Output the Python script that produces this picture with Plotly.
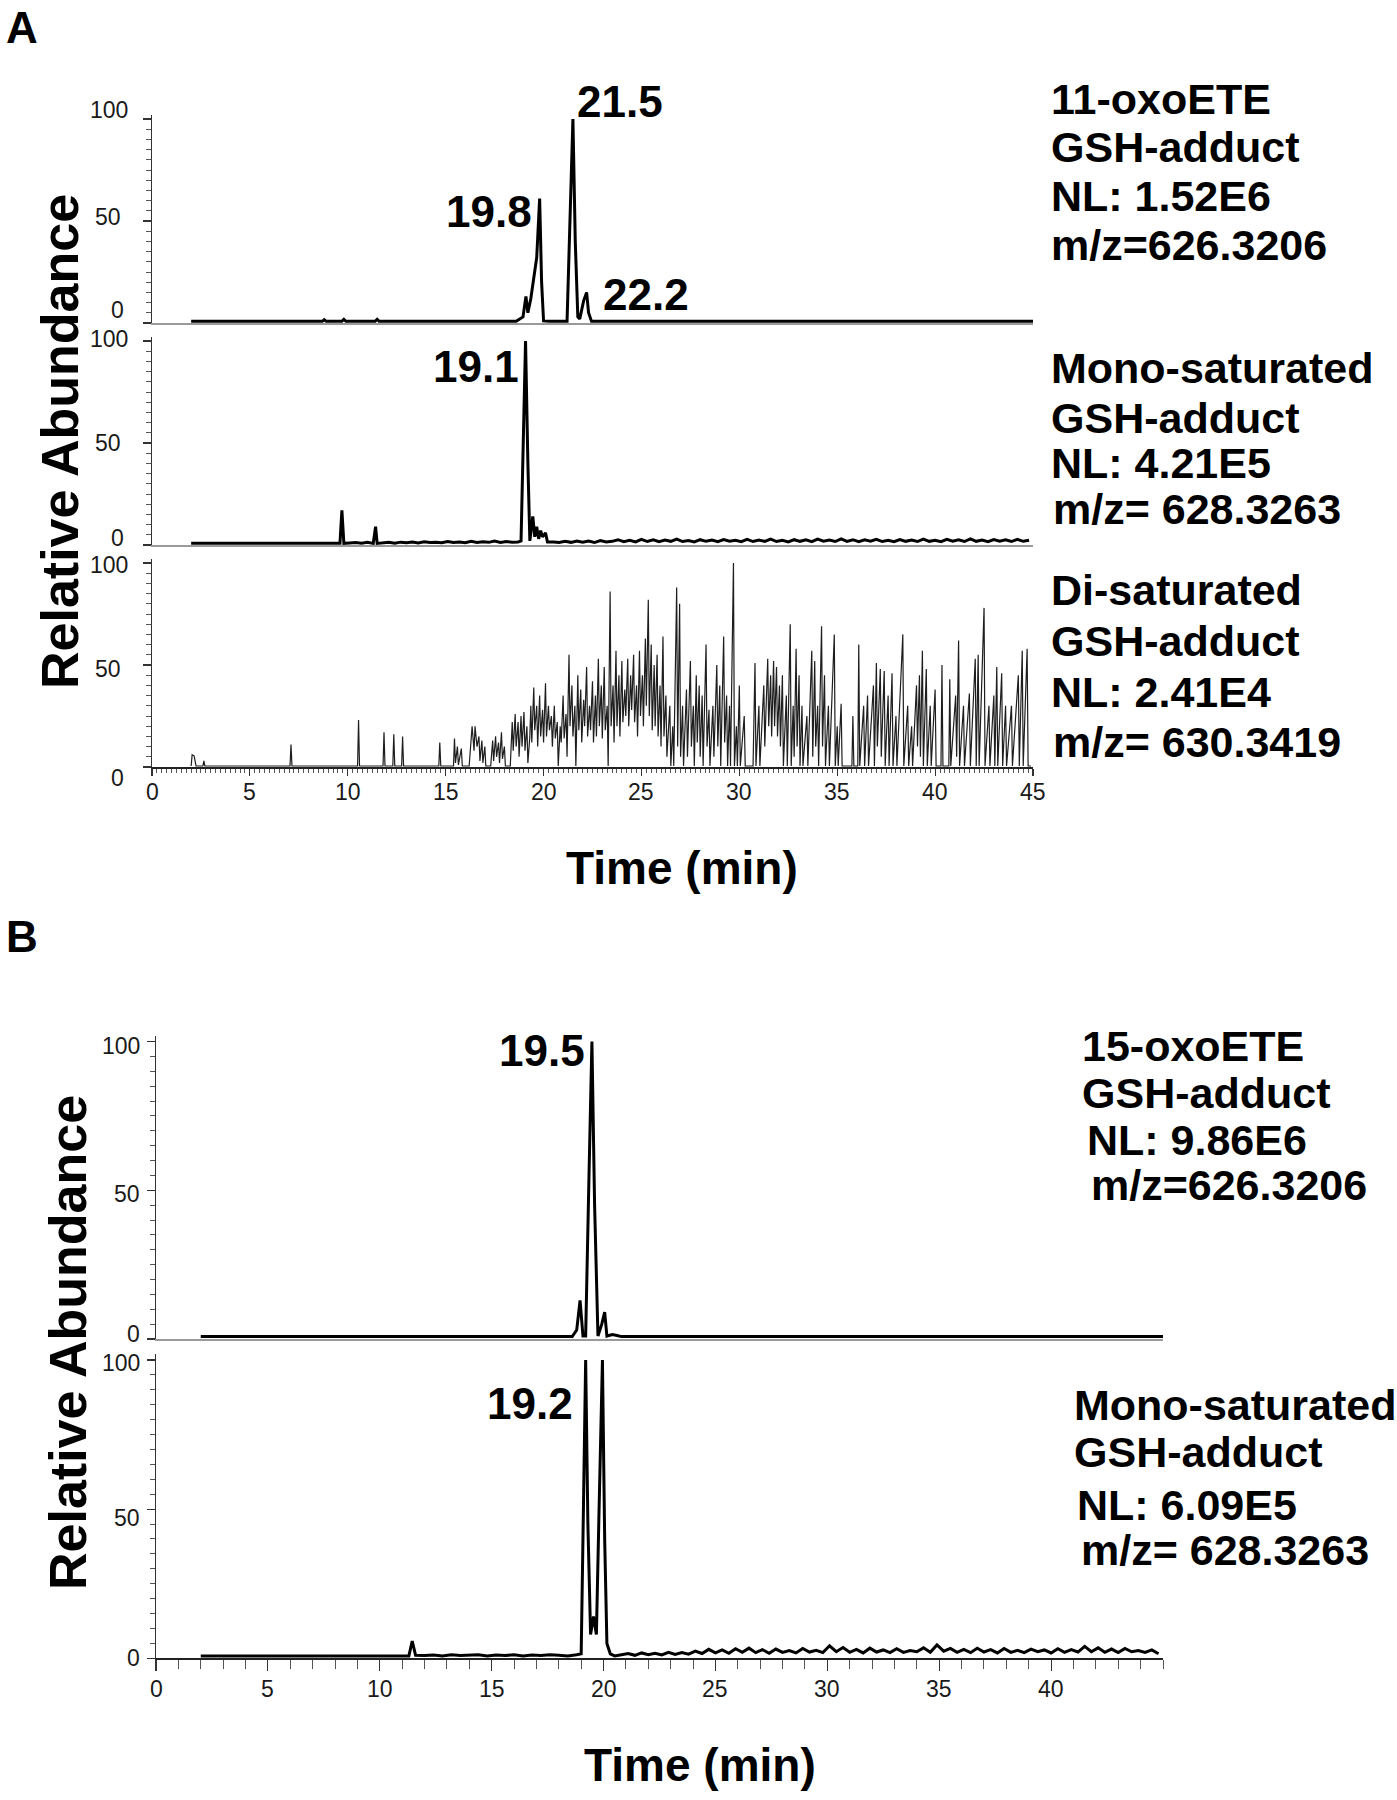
import plotly.graph_objects as go

# ---------------- data (time in min, relative abundance in %) ----------------
oxo11_t = [2.0, 8.7, 8.8, 8.9, 9.7, 9.8, 9.9, 11.4, 11.5, 11.6, 18.6, 18.95, 19.1, 19.2,
           19.35, 19.55, 19.65, 19.8, 19.9, 20.0, 20.3, 21.2, 21.35, 21.5, 21.62, 21.75,
           21.85, 22.05, 22.2, 22.3, 22.45, 45.0]
oxo11_y = [0.8, 0.8, 1.6, 0.8, 0.8, 1.8, 0.8, 0.8, 1.8, 0.8, 0.8, 3, 13, 5,
           12, 27, 32, 61, 20, 1, 0.8, 0.8, 50, 100, 40, 3,
           2, 11, 15, 5, 0.8, 0.8]

mono_a_t = [2.0, 9.6, 9.7, 9.8, 10.1, 10.4, 10.7, 11.0, 11.3, 11.42, 11.5,
            11.8, 12.1, 12.4, 12.7, 13.0, 13.3, 13.6, 13.9, 14.2, 14.5, 14.8, 15.1, 15.4,
            15.7, 16.0, 16.3, 16.6, 16.9, 17.2, 17.5, 17.8, 18.1, 18.4, 18.7,
            18.85, 19.0, 19.08, 19.2, 19.3, 19.45, 19.55, 19.65, 19.75, 19.85, 19.95, 20.1, 20.2,
            20.5, 20.8, 21.1, 21.4, 21.7, 22.0, 22.3, 22.6, 22.9, 23.2, 23.5, 23.8, 24.1,
            24.4, 24.7, 25.0, 25.3, 25.6, 25.9, 26.2, 26.5, 26.8, 27.1, 27.4, 27.7, 28.0,
            28.3, 28.6, 28.9, 29.2, 29.5, 29.8, 30.1, 30.4, 30.7, 31.0, 31.3, 31.6, 31.9,
            32.2, 32.5, 32.8, 33.1, 33.4, 33.7, 34.0, 34.3, 34.6, 34.9, 35.2, 35.5, 35.8,
            36.1, 36.4, 36.7, 37.0, 37.3, 37.6, 37.9, 38.2, 38.5, 38.8, 39.1, 39.4, 39.7,
            40.0, 40.3, 40.6, 40.9, 41.2, 41.5, 41.8, 42.1, 42.4, 42.7, 43.0, 43.3, 43.6,
            43.9, 44.2, 44.5, 44.8]
mono_a_y = [0.8, 0.8, 17, 0.8, 1.0, 1.2, 0.9, 1.3, 0.8, 9, 0.8,
            1.0, 1.3, 0.9, 1.4, 1.1, 1.5, 1.0, 1.6, 1.2, 1.4, 1.1, 1.7, 1.2,
            1.5, 1.1, 1.8, 1.2, 1.6, 1.3, 1.9, 1.2, 1.7, 1.3, 1.5,
            2, 60, 100, 40, 2, 14, 4, 9, 3, 7, 4, 6, 1.5,
            1.5, 1.2, 1.8, 1.3, 2.0, 1.4, 1.9, 1.2, 2.2, 1.5, 1.8, 2.6, 1.6,
            2.3, 1.5, 2.8, 1.7, 2.5, 1.6, 2.4, 1.8, 2.9, 1.7, 2.2, 1.5, 2.6,
            1.8, 2.4, 1.6, 2.7, 1.9, 2.3, 1.6, 2.8, 1.7, 2.4, 1.8, 2.9, 1.7,
            2.3, 1.5, 2.6, 1.8, 2.5, 1.6, 2.9, 1.9, 2.4, 1.7, 3.0, 1.8, 2.6,
            1.6, 2.5, 1.9, 2.8, 1.7, 2.3, 1.6, 2.7, 1.8, 2.4, 1.7, 2.9, 1.8,
            2.3, 1.6, 2.8, 1.9, 2.5, 1.7, 3.0, 1.8, 2.4, 1.6, 2.7, 1.9, 2.5,
            1.7, 2.8, 1.8, 2.3]

di_t = [2.0, 2.05, 2.15, 2.25, 2.6, 2.65, 2.7,
        7.05, 7.1, 7.15,
        10.5, 10.55, 10.6,
        11.8, 11.85, 11.9, 12.3, 12.35, 12.4, 12.75, 12.8, 12.85,
        14.65, 14.7, 14.75,
        15.4, 15.45, 15.5, 15.6, 15.65, 15.8, 15.85,
        16.2, 16.3, 16.35, 16.45, 16.5, 16.6, 16.7, 16.75, 16.85, 16.9, 17.0, 17.05,
        17.3, 17.4, 17.45, 17.55, 17.6, 17.7, 17.75, 17.85, 17.9, 18.0, 18.05,
        18.3, 18.4, 18.45, 18.55, 18.6, 18.7, 18.75, 18.85, 18.9, 19.0, 19.05, 19.15, 19.2,
        19.3, 19.35, 19.4, 19.5, 19.55, 19.65, 19.7, 19.8, 19.85, 19.95, 20.0, 20.1, 20.15,
        20.25, 20.3, 20.4, 20.45, 20.55, 20.6, 20.7, 20.75, 20.85, 20.9, 21.0, 21.05,
        21.15, 21.2, 21.3, 21.35, 21.45, 21.5, 21.6, 21.65, 21.75, 21.8, 21.9, 21.95,
        22.05, 22.1, 22.2, 22.25, 22.35, 22.4, 22.5, 22.55, 22.65, 22.7, 22.8, 22.85,
        22.95, 23.0, 23.1, 23.15, 23.25, 23.3, 23.4, 23.45, 23.55, 23.6, 23.7, 23.75,
        23.85, 23.9, 24.0, 24.05, 24.15, 24.2, 24.3, 24.35, 24.45, 24.5, 24.6, 24.65,
        24.75, 24.8, 24.9, 24.95, 25.05, 25.1, 25.2, 25.25, 25.35, 25.4, 25.5, 25.55,
        25.65, 25.7, 25.8, 25.85, 25.95, 26.0, 26.1, 26.15, 26.25, 26.3, 26.45, 26.5,
        26.6, 26.65, 26.8, 26.85, 26.95, 27.0, 27.1, 27.15, 27.3, 27.35, 27.5, 27.55,
        27.65, 27.7, 27.8, 27.85, 27.95, 28.0, 28.1, 28.15, 28.3, 28.35, 28.45, 28.5,
        28.65, 28.7, 28.85, 28.9, 29.0, 29.05, 29.2, 29.25, 29.35, 29.4, 29.5, 29.55,
        29.7, 29.75, 29.85, 29.9, 30.0, 30.05, 30.25, 30.3,
        30.7, 30.8, 30.85, 31.0, 31.05, 31.25, 31.3, 31.45, 31.5, 31.6, 31.65, 31.75,
        31.8, 31.9, 31.95, 32.05, 32.1, 32.2, 32.25, 32.4, 32.45, 32.6, 32.65, 32.75,
        32.8, 32.9, 32.95, 33.05, 33.1, 33.2, 33.25, 33.45, 33.5, 33.7, 33.75, 33.85,
        33.9, 34.0, 34.05, 34.2, 34.25, 34.35, 34.4, 34.55, 34.6, 34.85, 34.9, 35.0,
        35.05, 35.2, 35.25,
        35.75, 35.8, 35.85, 36.05, 36.1, 36.15, 36.35, 36.4, 36.55, 36.6, 36.85, 36.9,
        37.0, 37.05, 37.2, 37.25, 37.4, 37.45, 37.6, 37.65, 37.8, 37.85, 38.0, 38.05,
        38.35, 38.4, 38.6, 38.65, 38.8, 38.85, 39.05, 39.1, 39.2, 39.25, 39.35, 39.4,
        39.55, 39.6, 39.75, 39.8, 40.0, 40.05, 40.3, 40.35, 40.4, 40.7, 40.75, 40.8,
        41.05, 41.1, 41.2, 41.25, 41.45, 41.5, 41.75, 41.8, 42.05, 42.1, 42.2, 42.25,
        42.5, 42.55, 42.75, 42.8, 43.0, 43.05, 43.15, 43.2, 43.4, 43.45, 43.6, 43.65,
        43.9, 43.95, 44.25, 44.3, 44.45, 44.5, 44.7, 44.75, 44.9]
di_y = [0.5, 6, 5.5, 0.5, 0.5, 3, 0.5,
        0.5, 11, 0.5,
        0.5, 23, 0.5,
        0.5, 17, 0.5, 0.5, 16, 0.5, 0.5, 15, 0.5,
        0.5, 12, 0.5,
        0.5, 14, 2, 10, 1, 9, 0.5,
        0.5, 12, 20, 8, 20, 10, 15, 3, 13, 2, 10, 0.5,
        0.5, 13, 3, 15, 5, 12, 2, 17, 4, 10, 0.5,
        0.5, 22, 8, 26, 10, 22, 5, 25, 10, 27, 8, 20, 2,
        15, 30, 12, 39, 18, 30, 10, 35, 15, 28, 12, 41, 15,
        30, 18, 25, 10, 30, 14, 22, 0.5, 20, 12, 35, 14,
        26, 5, 55, 20, 40, 15, 30, 0.5, 45, 18, 38, 12,
        33, 20, 49, 15, 30, 18, 42, 12, 35, 15, 53, 20,
        40, 14, 49, 18, 30, 0.5, 86, 20, 40, 12, 57, 20,
        45, 15, 52, 22, 38, 25, 53, 20, 45, 28, 55, 22,
        40, 15, 57, 25, 45, 20, 63, 30, 82, 25, 60, 18,
        50, 20, 55, 15, 40, 10, 64, 15, 35, 5, 30, 0.5,
        20, 0.5, 88, 10, 80, 5, 30, 0.5, 38, 5, 52, 10,
        30, 0.5, 45, 12, 40, 5, 35, 0.5, 60, 10, 28, 0.5,
        30, 5, 50, 10, 40, 0.5, 64, 12, 35, 0.5, 30, 0.5,
        100, 0.5, 20, 0.5, 40, 0.5, 25, 0.5,
        0.5, 51, 0.5, 30, 0.5, 40, 10, 53, 20, 45, 15, 52,
        20, 49, 15, 40, 10, 45, 0.5, 35, 0.5, 70, 0.5, 30,
        5, 58, 10, 45, 0.5, 30, 0.5, 25, 0.5, 57, 5, 52,
        10, 30, 0.5, 69, 10, 45, 0.5, 30, 0.5, 65, 0.5, 20,
        0.5, 31, 0.5,
        0.5, 25, 0.5, 0.5, 60, 0.5, 30, 0.5, 35, 0.5, 40, 0.5,
        51, 10, 48, 5, 47, 0.5, 35, 0.5, 46, 0.5, 25, 0.5,
        65, 0.5, 30, 0.5, 20, 0.5, 40, 10, 45, 5, 57, 0.5,
        48, 0.5, 30, 0.5, 38, 0.5, 0.5, 50, 0.5, 0.5, 43, 0.5,
        35, 5, 62, 0.5, 30, 0.5, 36, 0.5, 53, 0.5, 55, 0.5,
        78, 0.5, 30, 0.5, 35, 0.5, 49, 0.5, 46, 0.5, 30, 0.5,
        30, 0.5, 45, 0.5, 57, 0.5, 58, 0.5, 0.5]

oxo15_t = [2.0, 18.6, 18.8, 18.95, 19.08, 19.2, 19.35, 19.48, 19.6, 19.75, 19.92, 20.05,
           20.15, 20.4, 20.6, 20.8, 45.0]
oxo15_y = [0.8, 0.8, 3, 13, 1, 1, 55, 100, 45, 1, 5, 9,
           1, 1.5, 1.2, 0.8, 0.8]

mono_b_t = [2.0, 11.3, 11.45, 11.6, 12.0, 12.4, 12.8, 13.2, 13.6, 14.0, 14.4, 14.8,
            15.2, 15.6, 16.0, 16.4, 16.8, 17.2, 17.6, 18.0, 18.4, 18.8, 19.0, 19.1,
            19.2, 19.3, 19.42, 19.55, 19.68, 19.8, 19.95, 20.05, 20.15, 20.3, 20.5,
            20.8, 21.1, 21.4, 21.7, 22.0, 22.3, 22.6, 22.9, 23.2, 23.5, 23.8, 24.1,
            24.4, 24.7, 25.0, 25.3, 25.6, 25.9, 26.2, 26.5, 26.8, 27.1, 27.4, 27.7,
            28.0, 28.3, 28.6, 28.9, 29.2, 29.5, 29.8, 30.1, 30.4, 30.7, 31.0, 31.3,
            31.6, 31.9, 32.2, 32.5, 32.8, 33.1, 33.4, 33.7, 34.0, 34.3, 34.6, 34.9,
            35.2, 35.5, 35.8, 36.1, 36.4, 36.7, 37.0, 37.3, 37.6, 37.9, 38.2, 38.5,
            38.8, 39.1, 39.4, 39.7, 40.0, 40.3, 40.6, 40.9, 41.2, 41.5, 41.8, 42.1,
            42.4, 42.7, 43.0, 43.3, 43.6, 43.9, 44.2, 44.5, 44.8]
mono_b_y = [0.8, 0.8, 5.8, 1.0, 0.9, 1.1, 0.8, 1.2, 0.9, 1.0, 1.2, 0.8,
            1.1, 0.9, 1.2, 0.8, 1.1, 0.9, 1.2, 1.0, 0.8, 1.2, 1.5, 50,
            100, 45, 8, 14, 8, 50, 100, 40, 5, 1.5, 0.8,
            1.2, 1.6, 1.0, 1.8, 1.2, 1.7, 1.1, 2.0, 1.3, 1.9, 1.4, 2.4,
            1.6, 3.0, 1.8, 2.8, 1.7, 3.2, 2.0, 3.4, 1.9, 2.9, 1.7, 3.1,
            2.0, 2.6, 1.8, 3.3, 2.1, 2.7, 1.9, 4.2, 2.2, 3.6, 2.0, 3.0,
            1.8, 3.4, 2.1, 2.8, 1.9, 3.2, 2.0, 2.6, 2.2, 3.5, 2.0, 4.5,
            2.4, 3.3, 2.0, 3.0, 1.9, 3.4, 2.1, 2.9, 1.8, 3.3, 2.0, 2.7,
            1.9, 3.1, 2.2, 2.8, 1.8, 3.2, 2.0, 2.9, 2.1, 4.0, 2.2, 3.5,
            2.0, 3.1, 1.9, 3.3, 2.2, 2.6, 2.0, 2.8, 1.5]

a_xticks = [0, 5, 10, 15, 20, 25, 30, 35, 40, 45]
b_xticks = [0, 5, 10, 15, 20, 25, 30, 35, 40]
y_ticks = [0, 50, 100]

a_names = [["11-oxoETE", "GSH-adduct", "NL: 1.52E6", "m/z=626.3206"],
           ["Mono-saturated", "GSH-adduct", "NL: 4.21E5", "m/z= 628.3263"],
           ["Di-saturated", "GSH-adduct", "NL: 2.41E4", "m/z= 630.3419"]]
b_names = [["15-oxoETE", "GSH-adduct", "NL: 9.86E6", "m/z=626.3206"],
           ["Mono-saturated", "GSH-adduct", "NL: 6.09E5", "m/z= 628.3263"]]
peak_labels = ["21.5", "19.8", "22.2", "19.1", "19.5", "19.2"]

# ---------------- layout helpers (pixel geometry of the 1397x1800 page) ----------------
W, H = 1397, 1800
FONT = "Liberation Sans, Arial, Helvetica, sans-serif"


def fx(px):
    return px / W


def fy(py):
    return 1 - py / H


def ydom(p100, p0, top=102):
    s = (p0 - p100) / 100.0
    return [fy(p0), fy(p100 - (top - 100) * s)]


fig = go.Figure()

traces = [
    (oxo11_t, oxo11_y, 3.0, "#000000"),
    (mono_a_t, mono_a_y, 3.0, "#000000"),
    (di_t, di_y, 1.2, "#1e1e1e"),
    (oxo15_t, oxo15_y, 3.0, "#000000"),
    (mono_b_t, mono_b_y, 3.0, "#000000"),
]
for i, (t, y, w, c) in enumerate(traces, start=1):
    fig.add_trace(go.Scatter(x=t, y=y, mode="lines", line=dict(color=c, width=w),
                             xaxis="x%d" % i, yaxis="y%d" % i, showlegend=False,
                             hoverinfo="skip"))

ax_a = [fx(152), fx(1033)]
ax_b = [fx(156), fx(1163)]
ydoms = [ydom(119, 323), ydom(341, 545), ydom(563, 767), ydom(1041.5, 1339), ydom(1360, 1658.3)]
xdoms = [ax_a, ax_a, ax_a, ax_b, ax_b]

layout = dict(width=W, height=H, margin=dict(l=0, r=0, t=0, b=0, autoexpand=False),
              template="none", hovermode=False,
              paper_bgcolor="white", plot_bgcolor="white", showlegend=False)

for i in range(1, 6):
    xs = "" if i == 1 else str(i)
    bottom = i in (3, 5)
    xa = dict(domain=xdoms[i - 1], range=[0, 45], anchor="y%s" % xs, showgrid=False,
              zeroline=False, showline=True, linewidth=1.5, automargin=False,
              showticklabels=False,
              linecolor="#222222" if bottom else "#9a9a9a")
    if i == 3:
        xa.update(tickmode="array", tickvals=a_xticks, ticks="outside", ticklen=7,
                  tickwidth=1.2, tickcolor="#333",
                  minor=dict(dtick=0.25, tick0=0, ticks="outside", ticklen=4,
                             tickwidth=1, tickcolor="#555"))
    elif i == 5:
        xa.update(tickmode="array", tickvals=b_xticks, ticks="outside", ticklen=11,
                  tickwidth=1.2, tickcolor="#333",
                  minor=dict(dtick=1, tick0=0, ticks="outside", ticklen=9,
                             tickwidth=1, tickcolor="#555"))
    else:
        xa.update(ticks="")
    ya = dict(domain=ydoms[i - 1], range=[0, 102], anchor="x%s" % xs, showgrid=False,
              zeroline=False, showline=True, linewidth=1.5, linecolor="#333333",
              automargin=False, showticklabels=False,
              tickmode="array", tickvals=y_ticks, ticks="outside", ticklen=8,
              tickwidth=1.3, tickcolor="#333",
              minor=dict(dtick=5, tick0=0, ticks="outside", ticklen=5, tickwidth=1,
                         tickcolor="#555"))
    layout["xaxis%s" % xs] = xa
    layout["yaxis%s" % xs] = ya

fig.update_layout(**layout)

ann = []


def txt(s, x, y, size, xanchor="center", angle=0, bold=True):
    ann.append(dict(text=("<b>%s</b>" % s) if bold else s, x=fx(x), y=fy(y),
                    xref="paper", yref="paper", xanchor=xanchor, yanchor="middle",
                    showarrow=False, textangle=angle,
                    font=dict(family=FONT, size=size, color="#000000")))


tick_font = dict(family=FONT, size=23, color="#1a1a1a")

# y tick labels (placed on each panel's own y axis, nudged like the original)
ylab_right = [[126, 123, 130], [126, 123, 130], [126, 123, 130], [142, 142, 142], [142, 142, 142]]
ylab_shift = [[13, 4, 9], [7, 0, 2], [-11, -4, -2], [5, -4, -4], [0, -9, -3]]
for i in range(1, 6):
    for v, xr, sh in zip(y_ticks, ylab_right[i - 1], ylab_shift[i - 1]):
        ann.append(dict(text=str(v), x=fx(xr), xref="paper", y=v, yref="y%d" % i,
                        yshift=sh, xanchor="right", yanchor="middle", showarrow=False,
                        font=tick_font))

# x tick labels
for v in a_xticks:
    ann.append(dict(text=str(v), x=v, xref="x3", y=fy(792), yref="paper",
                    xanchor="center", yanchor="middle", showarrow=False, font=tick_font))
for v in b_xticks:
    ann.append(dict(text=str(v), x=v, xref="x5", y=fy(1689), yref="paper",
                    xanchor="center", yanchor="middle", showarrow=False, font=tick_font))

# panel letters
txt("A", 4, 27, 44, xanchor="left")
txt("B", 4, 936, 44, xanchor="left")

# axis titles
txt("Relative Abundance", 60, 442, 52, angle=-90)
txt("Relative Abundance", 68, 1343, 52, angle=-90)
txt("Time (min)", 682, 868, 46)
txt("Time (min)", 700, 1765, 46)

# peak labels
peak_pos = {"21.5": (620, 101), "19.8": (489, 212), "22.2": (646, 295),
            "19.1": (476, 366), "19.5": (542, 1050), "19.2": (530, 1403)}
for lab in peak_labels:
    x, y = peak_pos[lab]
    txt(lab, x, y, 44)

# compound descriptions
a_rows = [[99, 147, 196, 245], [368, 418, 463, 509], [590, 641, 692, 742]]
a_x = [[1049, 1049, 1049, 1049], [1049, 1049, 1049, 1051], [1049, 1049, 1049, 1051]]
for names, rows, xs in zip(a_names, a_rows, a_x):
    for s, y, x in zip(names, rows, xs):
        txt(s, x, y, 43, xanchor="left")

b_rows = [[1046, 1093, 1140, 1185], [1405, 1452, 1505, 1550]]
b_x = [[1080, 1080, 1085, 1089], [1072, 1072, 1075, 1079]]
for names, rows, xs in zip(b_names, b_rows, b_x):
    for s, y, x in zip(names, rows, xs):
        txt(s, x, y, 43, xanchor="left")

fig.update_layout(annotations=ann)
fig.write_html("out.html", config={"displayModeBar": False, "staticPlot": True},
               post_script="document.body.style.margin='0px';document.body.style.padding='0px';")
